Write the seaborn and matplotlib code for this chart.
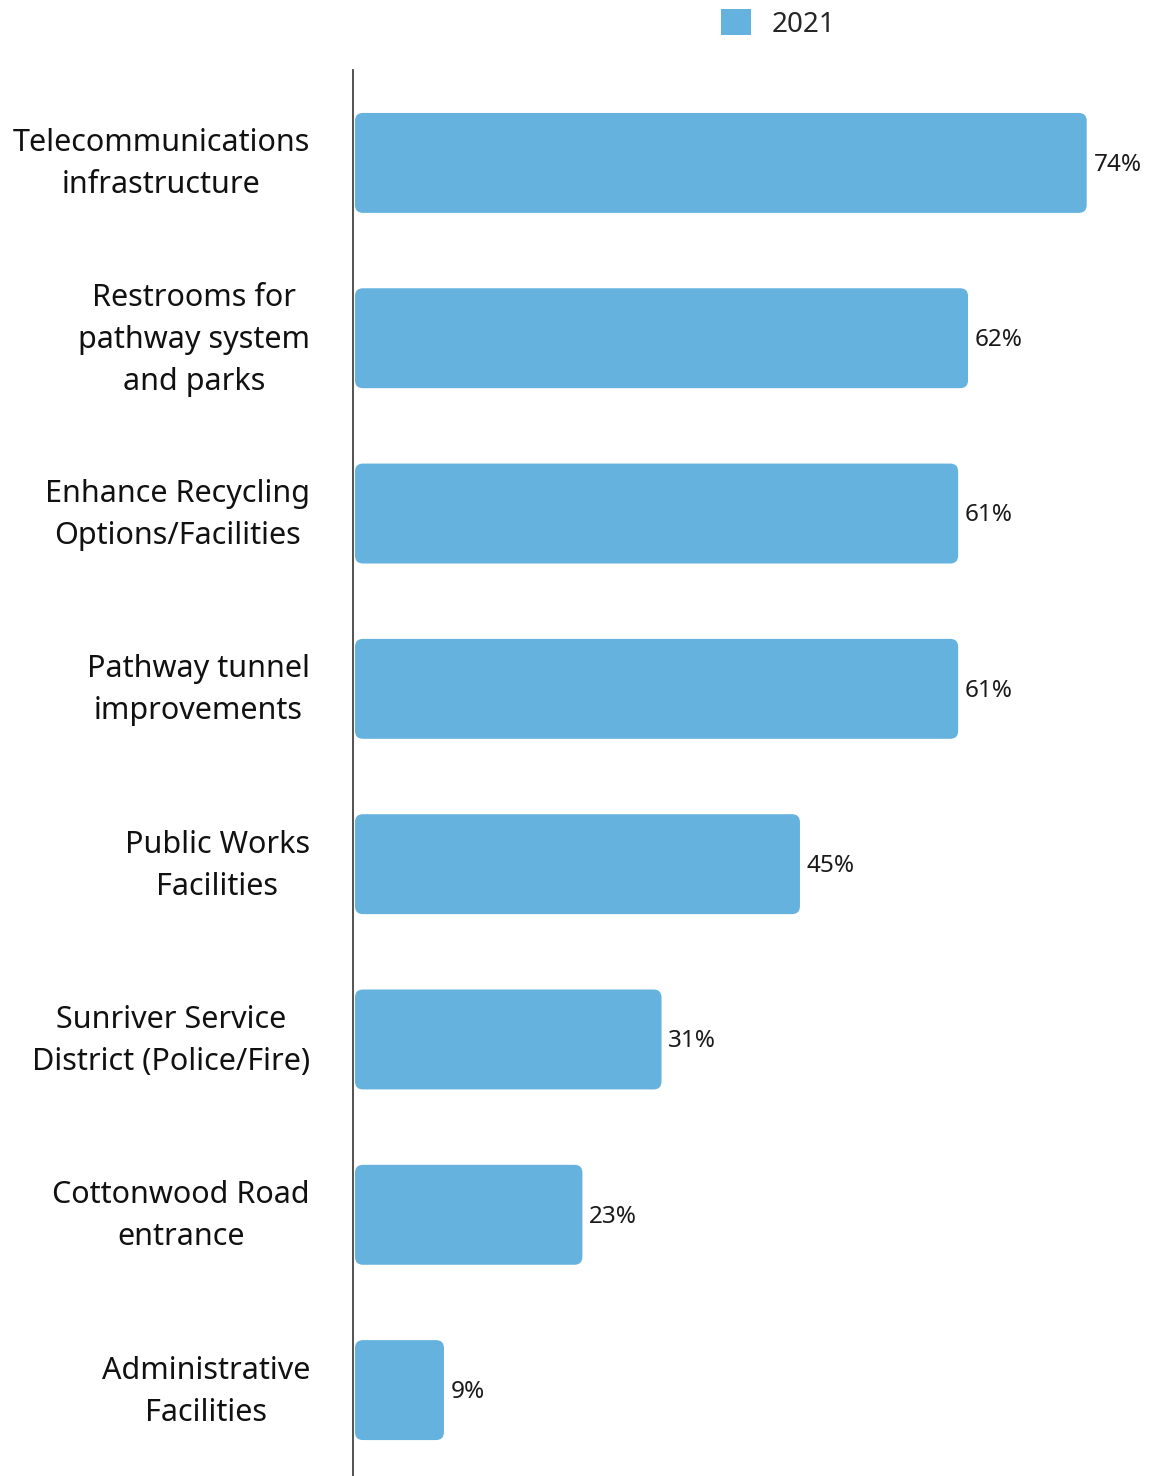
import matplotlib
matplotlib.use("Agg")
import matplotlib.pyplot as plt
import matplotlib.transforms as mtransforms
import seaborn as sns
import pandas as pd
from matplotlib.patches import FancyBboxPatch, Patch

categories = [
    "Telecommunications\ninfrastructure",
    "Restrooms for\npathway system\nand parks",
    "Enhance Recycling\nOptions/Facilities",
    "Pathway tunnel\nimprovements",
    "Public Works\nFacilities",
    "Sunriver Service\nDistrict (Police/Fire)",
    "Cottonwood Road\nentrance",
    "Administrative\nFacilities",
]
values_2021 = [74, 62, 61, 61, 45, 31, 23, 9]
series_name = "2021"

df = pd.DataFrame({"category": categories, "value": values_2021})

sns.set_theme(style="white")
plt.rcParams["font.family"] = ["Noto Sans", "DejaVu Sans"]

color = "#64B2DD"
fig = plt.figure(figsize=(11.49, 14.76), dpi=100)
ax = fig.add_axes([353 / 1149, 0, (1149 - 353) / 1149, (1476 - 70) / 1476])

sns.barplot(data=df, x="value", y="category", color=color, width=0.57,
            saturation=1, ax=ax, orient="h")

ax.set_xlim(-0.2, 80.3)
ax.set_ylim(7.49, -0.53)

# replace bars with rounded versions
r_x = 0.8
aspect = (8 / 175.3) / r_x
for p in list(ax.patches):
    x, y = p.get_x(), p.get_y()
    w, h = p.get_width(), p.get_height()
    fb = FancyBboxPatch((x, y), w, h,
                        boxstyle=f"round,pad=0,rounding_size={r_x}",
                        mutation_aspect=aspect, facecolor=color,
                        edgecolor="none", linewidth=0)
    p.remove()
    ax.add_patch(fb)

for i, v in enumerate(values_2021):
    ax.text(v + 0.7, i + 0.01, f"{v}%", va="center", ha="left", fontsize=17.5,
            fontweight="light", color="#1a1a1a")

ax.set_xlabel("")
ax.set_ylabel("")
ax.set_xticks([])
ax.tick_params(axis="y", length=0, pad=31, labelsize=22, labelcolor="#111111")
offset = mtransforms.ScaledTranslation(0, 0.08, fig.dpi_scale_trans)
for lbl in ax.get_yticklabels():
    lbl.set_multialignment("center")
    lbl.set_linespacing(1.52)
    lbl.set_transform(lbl.get_transform() + offset)

for s in ["top", "right", "bottom"]:
    ax.spines[s].set_visible(False)
ax.spines["left"].set_color("#444444")
ax.spines["left"].set_linewidth(1.3)

handles = [Patch(facecolor=color, edgecolor="none", label=series_name)]
fig.legend(handles=handles, loc="center left", bbox_to_anchor=(721 / 1149, 1 - 24 / 1476),
           frameon=False, fontsize=20, handlelength=1.08, handleheight=1.05,
           handletextpad=0.75, borderaxespad=0, borderpad=0)

fig.savefig("out.png", dpi=100)
